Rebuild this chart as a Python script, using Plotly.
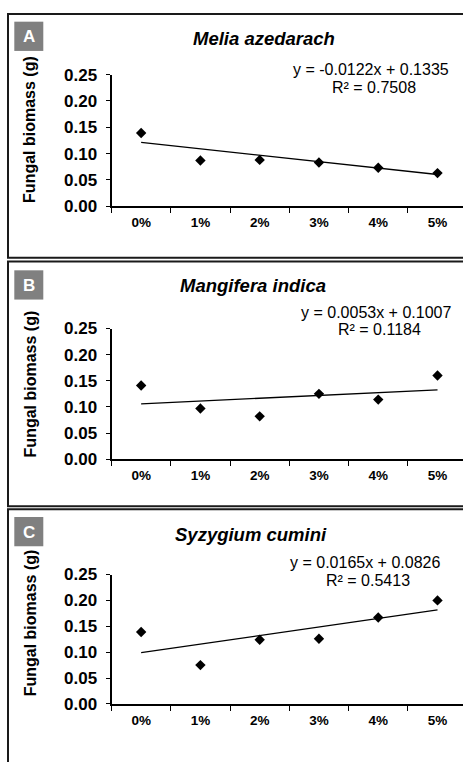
import plotly.graph_objects as go

W, H = 463, 762

categories = ["0%", "1%", "2%", "3%", "4%", "5%"]
melia = [0.139, 0.087, 0.088, 0.083, 0.073, 0.063]
mangifera = [0.141, 0.097, 0.082, 0.125, 0.114, 0.160]
syzygium = [0.139, 0.075, 0.124, 0.126, 0.167, 0.200]

species = ["Melia azedarach", "Mangifera indica", "Syzygium cumini"]
panel_letters = ["A", "B", "C"]
slopes = [-0.0122, 0.0053, 0.0165]
intercepts = [0.1335, 0.1007, 0.0826]
r_squared = [0.7508, 0.1184, 0.5413]
y_ticks = [0.00, 0.05, 0.10, 0.15, 0.20, 0.25]
y_title = "Fungal biomass (g)"

series = [melia, mangifera, syzygium]

def px(x):
    return x / W

def py(y):
    return 1 - y / H

FONT = "Arial, 'Liberation Sans', sans-serif"

# layout geometry in pixels
plot_tops = [67.3, 327.7, 580.0]
plot_bots = [202.3, 461.7, 712.7]
frame_tops = [5, 259, 513]
frame_bots = [255, 510, 775]
box_tops = [13, 268, 521]
title_ys = [30, 284, 539]
title_xs = [264, 253, 251]
eq_xs = [371, 376, 365]
eq_ys = [62, 311, 568]
ytitle_ys = [124, 385, 630]

fig = go.Figure()
shapes = []
annotations = []

for i in range(3):
    xa = "x" if i == 0 else f"x{i+1}"
    ya = "y" if i == 0 else f"y{i+1}"
    vals = series[i]
    fig.add_trace(go.Scatter(
        x=categories, y=vals, mode="markers",
        marker=dict(symbol="diamond", size=8, color="black"),
        xaxis=xa, yaxis=ya, showlegend=False, hoverinfo="skip"))
    trend = [slopes[i] * (k + 1) + intercepts[i] for k in range(len(categories))]
    fig.add_trace(go.Scatter(
        x=categories, y=trend, mode="lines",
        line=dict(color="black", width=1.3),
        xaxis=xa, yaxis=ya, showlegend=False, hoverinfo="skip"))

    xkey = "xaxis" if i == 0 else f"xaxis{i+1}"
    ykey = "yaxis" if i == 0 else f"yaxis{i+1}"
    fig.layout[xkey] = dict(
        type="category", domain=[px(111.5), 1], range=[-0.5, 5.43],
        anchor=ya, showline=True, linecolor="black", linewidth=1.8,
        ticks="outside", tickson="boundaries", ticklen=5, tickwidth=1.3,
        tickcolor="black", showgrid=False, zeroline=False,
        tickfont=dict(family=FONT, size=13.5, color="black", weight="bold"),
        ticklabelstandoff=3, fixedrange=True)
    fig.layout[ykey] = dict(
        domain=[py(plot_bots[i]), py(plot_tops[i])], range=[0, 0.25],
        anchor=xa, showline=True, linecolor="black", linewidth=1.8,
        ticks="outside", ticklen=4, tickwidth=1.3, tickcolor="black",
        tickvals=y_ticks, tickformat=".2f", showgrid=False, zeroline=False,
        tickfont=dict(family=FONT, size=17, color="black", weight="bold"),
        ticklabelstandoff=5, fixedrange=True)

    # panel frame
    shapes.append(dict(type="rect", xref="paper", yref="paper",
                       x0=px(8), x1=px(480), y0=py(frame_bots[i]), y1=py(frame_tops[i]),
                       line=dict(color="#1a1a1a", width=2), layer="below"))
    # letter box
    shapes.append(dict(type="rect", xref="paper", yref="paper",
                       x0=px(14.3), x1=px(43.3), y0=py(box_tops[i] + 30), y1=py(box_tops[i]),
                       line=dict(width=0), fillcolor="#808080", layer="below"))
    annotations.append(dict(xref="paper", yref="paper", x=px(28.8), y=py(box_tops[i] + 15.5),
                            text=f"<b>{panel_letters[i]}</b>", showarrow=False,
                            xanchor="center", yanchor="middle",
                            font=dict(family=FONT, size=17, color="white")))
    # species title
    annotations.append(dict(xref="paper", yref="paper", x=px(title_xs[i]), y=py(title_ys[i]),
                            text=f"<b><i>{species[i]}</i></b>", showarrow=False,
                            xanchor="center", yanchor="middle",
                            font=dict(family=FONT, size=18.5, color="black")))
    # equation
    sign = "-" if slopes[i] < 0 else ""
    eq = f"y = {sign}{abs(slopes[i]):.4f}x + {intercepts[i]:.4f}"
    annotations.append(dict(xref="paper", yref="paper", x=px(eq_xs[i]), y=py(eq_ys[i]),
                            text=eq, showarrow=False, xanchor="center", yanchor="middle",
                            font=dict(family=FONT, size=16, color="black")))
    annotations.append(dict(xref="paper", yref="paper", x=px(eq_xs[i] + 3), y=py(eq_ys[i] + 18),
                            text=f"R² = {r_squared[i]:.4f}", showarrow=False,
                            xanchor="center", yanchor="middle",
                            font=dict(family=FONT, size=16, color="black")))
    # y-axis title
    annotations.append(dict(xref="paper", yref="paper", x=px(30), y=py(ytitle_ys[i]),
                            text=f"<b>{y_title}</b>", showarrow=False, textangle=-90,
                            xanchor="center", yanchor="middle",
                            font=dict(family=FONT, size=16, color="black")))

fig.update_layout(
    width=W, height=H, margin=dict(l=0, r=0, t=0, b=0),
    paper_bgcolor="white", plot_bgcolor="white",
    shapes=shapes, annotations=annotations, showlegend=False,
)

fig.write_html("out.html", config={"displayModeBar": False})
